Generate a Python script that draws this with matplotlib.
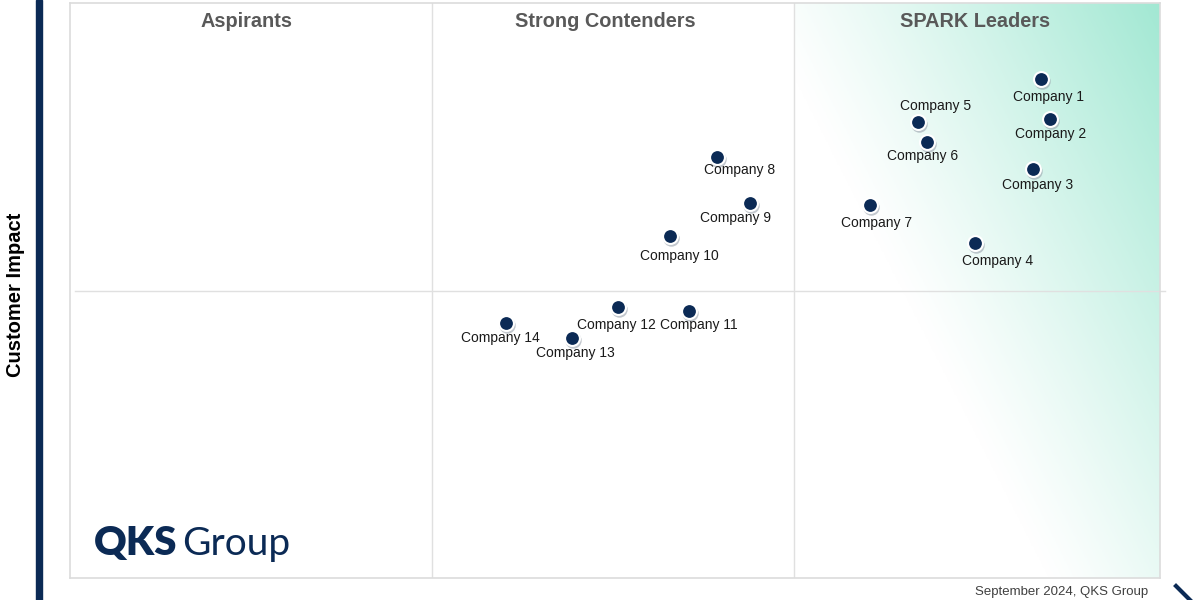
import numpy as np
import matplotlib.pyplot as plt
from matplotlib.patches import Rectangle
from matplotlib.colors import LinearSegmentedColormap
import matplotlib.transforms as mtransforms

plt.rcParams['font.family'] = ['Liberation Sans', 'DejaVu Sans']

# data: x = column position (0-3), y = customer impact (0-2)
companies = ["Company 1", "Company 2", "Company 3", "Company 4", "Company 5",
             "Company 6", "Company 7", "Company 8", "Company 9", "Company 10",
             "Company 11", "Company 12", "Company 13", "Company 14"]
x_vals = [2.672, 2.697, 2.650, 2.491, 2.334, 2.359, 2.202,
          1.781, 1.872, 1.651, 1.704, 1.508, 1.382, 1.200]
y_vals = [1.736, 1.597, 1.423, 1.165, 1.586, 1.517, 1.297,
          1.464, 1.304, 1.190, 0.929, 0.943, 0.835, 0.887]
quadrant_names = ["Aspirants", "Strong Contenders", "SPARK Leaders"]
col_edges = [0, 0.996, 1.993, 3]
header_x = [0.487, 1.472, 2.491]

# label offsets in pixels (dx, dy downwards)
label_offsets = [(8, 18), (1, 15), (5, 16), (22, 18), (18, -16), (-5, 14), (7, 18),
                 (22, 13), (-15, 15), (10, 20), (10, 14), (-1, 18), (3, 15), (-6, 15)]

navy = "#0b2a55"

fig = plt.figure(figsize=(12, 6), dpi=100)
fig.patch.set_facecolor("white")
ax = fig.add_axes([70 / 1200, 22 / 600, 1090 / 1200, 575 / 600])
ax.set_xlim(0, 3)
ax.set_ylim(0, 2)
ax.set_xticks([])
ax.set_yticks([])
for s in ax.spines.values():
    s.set_color("#dcdcdc")
    s.set_linewidth(1.2)

# gradient on the leaders column
nx, ny = 300, 400
u = np.linspace(0, 1, nx)
v = np.linspace(0, 1, ny)
U, V = np.meshgrid(u, v)
t = np.clip(0.9 * U + 0.72 * V - 0.62, 0, 1) ** 1.15
cmap = LinearSegmentedColormap.from_list("mint", ["#ffffff", "#a2e8d3"])
ax.imshow(t, extent=[col_edges[2], 3, 0, 2], origin="lower", cmap=cmap, vmin=0, vmax=1,
          aspect="auto", zorder=0)

# dividers
for xv in col_edges[1:3]:
    ax.plot([xv, xv], [0, 2], color="#e0e0e0", lw=1, zorder=1)
ax.plot([0.015, 3.015], [1, 1], color="#e0e0e0", lw=1, zorder=1, clip_on=False)

for hx, name in zip(header_x, quadrant_names):
    ax.text(hx, 1.936, name, ha="center", va="center", fontsize=14.3,
            fontweight="bold", color="#595959", zorder=3)

# markers with shadow
shadow = ax.transData + mtransforms.ScaledTranslation(0.5 / 72, -1.5 / 72, fig.dpi_scale_trans)
ax.scatter(x_vals, y_vals, s=140, color="#9aa3ad", alpha=0.6, lw=0,
           transform=shadow, zorder=3)
ax.scatter(x_vals, y_vals, s=115, color=navy, edgecolors="white", linewidths=1.5, zorder=4)

for name, xv, yv, (dx, dy) in zip(companies, x_vals, y_vals, label_offsets):
    ax.annotate(name, (xv, yv), xytext=(dx, -dy), textcoords="offset pixels",
                ha="center", va="center", fontsize=10, color="#1a1a1a", zorder=5)

# left navy bar and axis title
fig.patches.append(Rectangle((36 / 1200, 0), 6 / 1200, 1, transform=fig.transFigure,
                             color=navy, zorder=2))
fig.text(16 / 1200, 1 - 295 / 600, "Customer Impact", rotation=90, ha="center",
         va="center", fontsize=14.5, fontweight="bold", color="black")

# logo
fig.text(94 / 1200, 1 - 543 / 600, "QKS", ha="left", va="center", fontsize=29,
         fontweight="heavy", color=navy, family=["Lato", "DejaVu Sans"])
fig.text(182 / 1200, 1 - 544 / 600, "Group", ha="left", va="center", fontsize=28,
         color=navy, family=["Lato", "DejaVu Sans"])

# footnote and arrow tip
fig.text(1148 / 1200, 1 - 592 / 600, "September 2024, QKS Group", ha="right",
         va="center", fontsize=9.5, color="#404040")
fig.add_artist(plt.Line2D([1176 / 1200, 1190 / 1200], [1 - 586 / 600, 1 - 600 / 600],
                          color=navy, lw=3, transform=fig.transFigure))

fig.savefig("out.png", dpi=100)
